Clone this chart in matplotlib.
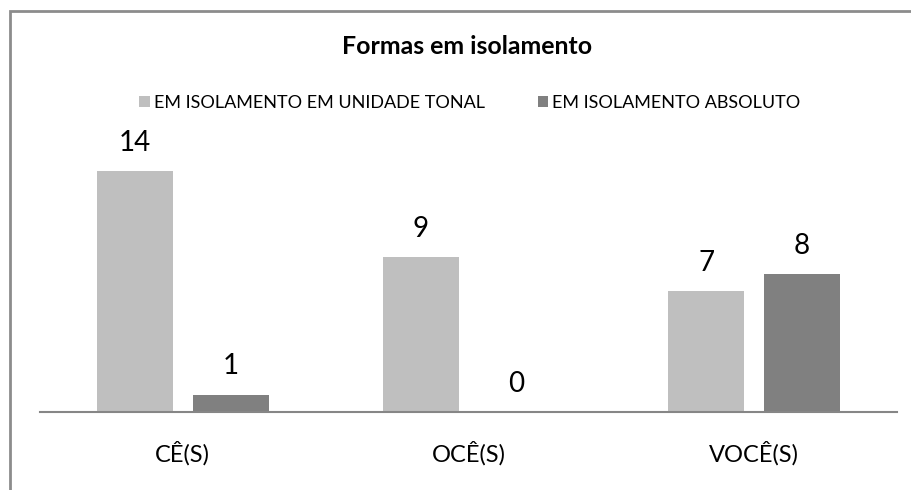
import numpy as np
import matplotlib
matplotlib.use("Agg")
import matplotlib.pyplot as plt
from matplotlib.patches import Rectangle

categories = ["CÊ(S)", "OCÊ(S)", "VOCÊ(S)"]
series_names = ["EM ISOLAMENTO EM UNIDADE TONAL", "EM ISOLAMENTO ABSOLUTO"]
tonal = [14, 9, 7]
absoluto = [1, 0, 8]
title = "Formas em isolamento"

plt.rcParams['font.family'] = ['Lato', 'DejaVu Sans']

fig = plt.figure(figsize=(9.12, 4.9), dpi=100)

# outer frame of the chart (only top and left edges show in the picture)
fig.patches.append(Rectangle((10.5 / 912, -0.1), 1.2, 1 - 10.5 / 490 + 0.1,
                             transform=fig.transFigure, fill=False,
                             edgecolor="#8c8c8c", linewidth=2.0))

ax = fig.add_axes([40 / 912, 1 - 411.7 / 490, 857 / 912, 275.2 / 490])

x = np.arange(len(categories))
w = 0.266
off = 0.168
b1 = ax.bar(x - off, tonal, w, color="#bfbfbf", label=series_names[0])
b2 = ax.bar(x + off, absoluto, w, color="#808080", label=series_names[1])

for bars, vals in [(b1, tonal), (b2, absoluto)]:
    for rect, v in zip(bars, vals):
        ax.annotate(str(v), (rect.get_x() + rect.get_width() / 2, v),
                    xytext=(0, 14.5), textcoords="offset points",
                    ha="center", va="baseline", fontsize=20, color="black")

ax.set_xlim(-0.5, 2.5)
ax.set_ylim(0, 16)
ax.set_xticks(x)
ax.set_xticklabels(categories, fontsize=17)
ax.tick_params(axis="x", length=0, pad=21)
ax.set_yticks([])
for s in ["top", "right", "left"]:
    ax.spines[s].set_visible(False)
ax.spines["bottom"].set_color("#868686")
ax.spines["bottom"].set_linewidth(1.5)
ax.patch.set_alpha(0)

fig.text(467 / 912, 1 - 47 / 490, title, ha="center", va="center",
         fontsize=17.9, fontweight="bold")

fig.legend(handles=[b1, b2], loc="center", bbox_to_anchor=(470 / 912, 1 - 103 / 490),
           ncol=2, frameon=False, fontsize=13, handlelength=0.6, handleheight=0.6,
           handletextpad=0.22, columnspacing=2.9)

fig.savefig("out.png", dpi=100)
